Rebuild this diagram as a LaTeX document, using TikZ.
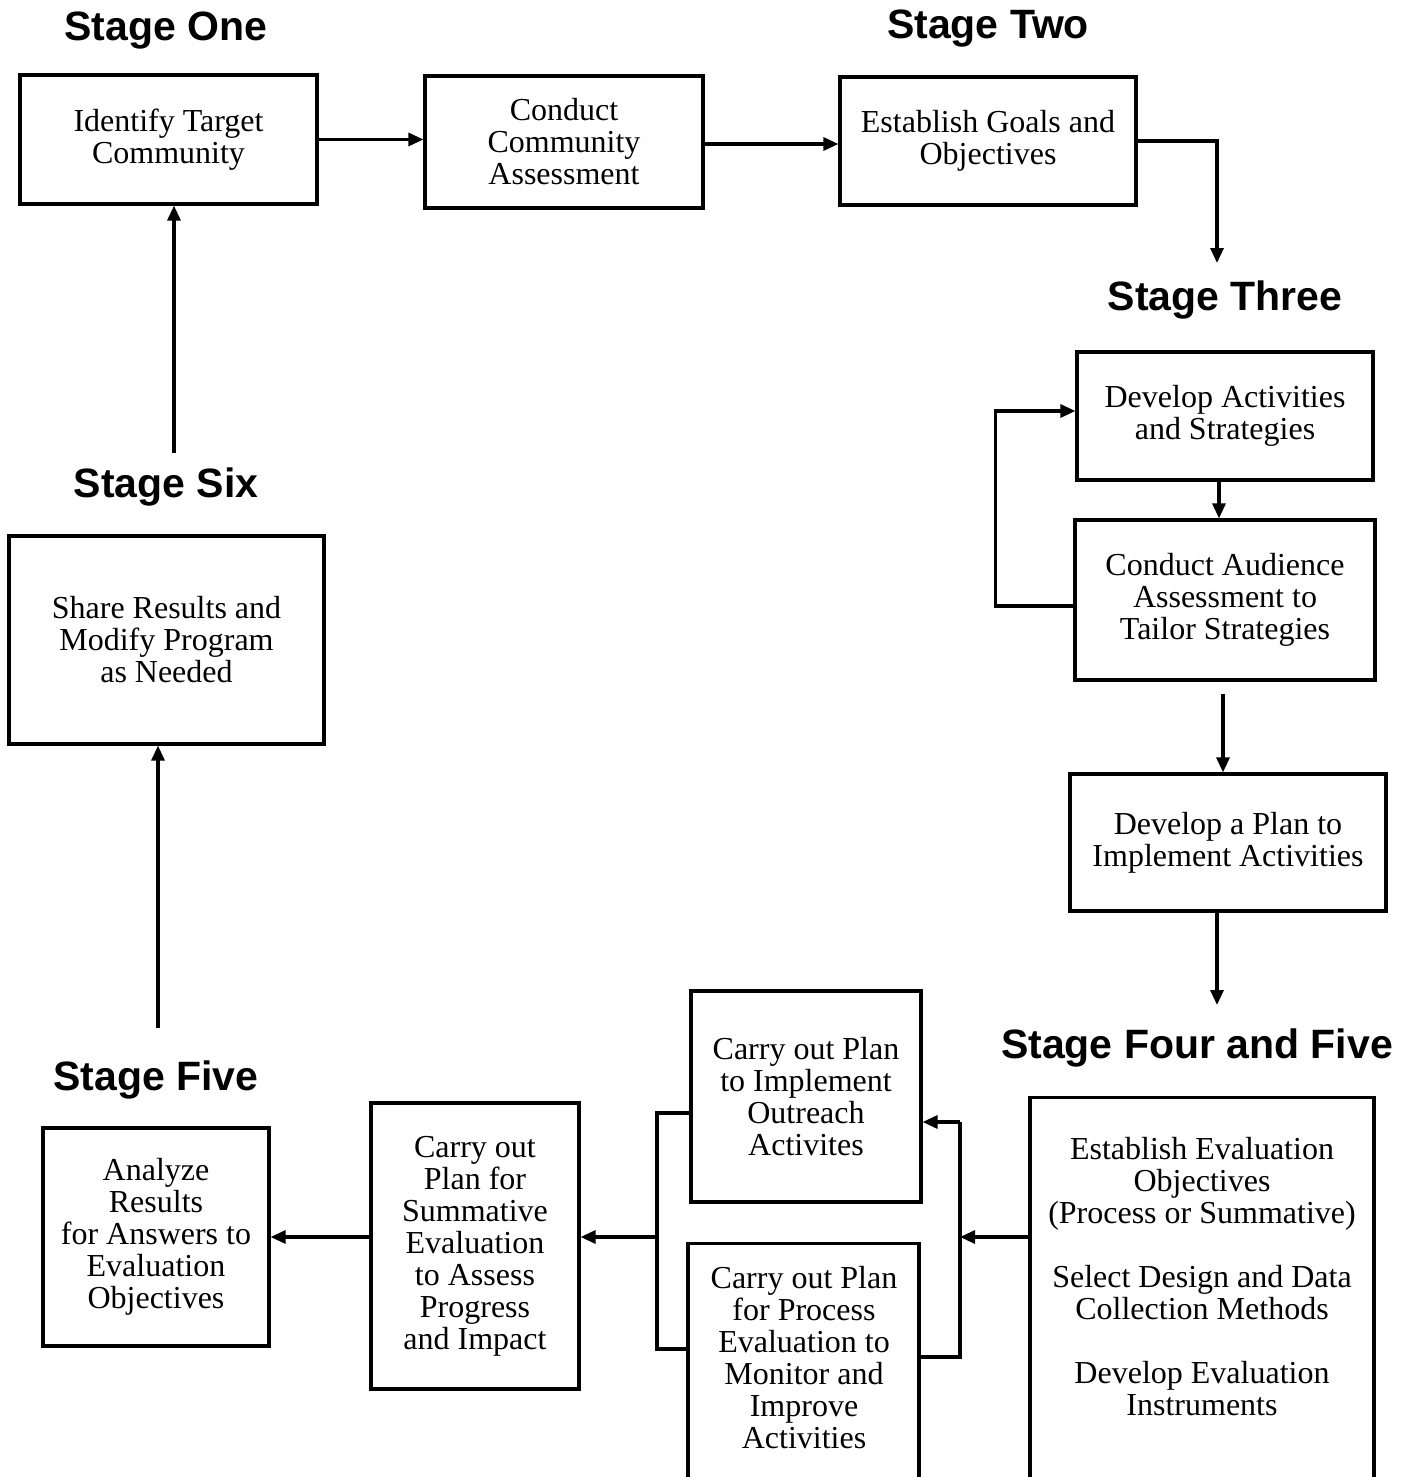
\documentclass[tikz,border=0pt]{standalone}
\usepackage{fontspec}
\setmainfont{Liberation Serif}
\newfontfamily\stagefont{Liberation Sans}
\usetikzlibrary{arrows.meta, positioning}
\tikzset{
>={Triangle[length=7.5pt,width=6.5pt]}, % filled arrow heads
txt/.style={inner sep=0pt, align=center, font=\fontsize{16}{16}\selectfont},
box/.style={txt, draw, line width=1.6pt}, % every step of the plan
stage/.style={inner sep=0pt, font=\stagefont\bfseries\fontsize{20.5}{24}\selectfont},
link/.style={line width=1.6pt},
}

\begin{document}
\begin{tikzpicture}[x=0.5pt, y=-0.5pt]%pixel-like units, y downwards
  \useasboundingbox (0,0) rectangle (1415,1477);

  % stage headings
  \node[stage] (one) at (166,31) {Stage One};
  \node[stage] (two) at (988,29) {Stage Two};
  \node[stage] (three) at (1225,300) {Stage Three};
  \node[stage] (six) at (166,487) {Stage Six};
  \node[stage] (fourfive) at (1197,1048) {Stage Four and Five};
  \node[stage] (five) at (156,1080) {Stage Five};

  % boxes
  \node[box, minimum width=148.5pt, minimum height=64.5pt] (ident) at (168.5,139.5) {Identify Target\\Community};
  \node[box, minimum width=139pt, minimum height=66pt] (assess) at (564,142) {Conduct\\Community\\Assessment};
  \node[box, minimum width=148pt, minimum height=64pt] (goals) at (988,141) {Establish Goals and\\Objectives};
  \node[box, minimum width=148pt, minimum height=64pt] (devact) at (1225,416) {Develop Activities\\and Strategies};
  \node[box, minimum width=150pt, minimum height=80pt] (audience) at (1225,600) {Conduct Audience\\Assessment to\\Tailor Strategies};
  \node[box, minimum width=158pt, minimum height=68.5pt] (plan) at (1228,842.5) {Develop a Plan to\\Implement Activities};
  \node[box, anchor=north, minimum width=172pt, minimum height=210pt] (evalobj) at (1202,1096) {};
  \node[txt] (evaltext) at (1202,1277) {Establish Evaluation\\Objectives\\(Process or Summative)\\[16pt]Select Design and Data\\Collection Methods\\[16pt]Develop Evaluation\\Instruments};
  \node[box, minimum width=115pt, minimum height=105.5pt] (outreach) at (806,1096.5) {Carry out Plan\\to Implement\\Outreach\\Activites};
  \node[box, anchor=north, minimum width=115.5pt, minimum height=140pt] (process) at (803.5,1242) {};
  \node[txt] (processtext) at (804,1358) {Carry out Plan\\for Process\\Evaluation to\\Monitor and\\Improve\\Activities};
  \node[box, minimum width=104pt, minimum height=143pt] (summ) at (475,1246) {Carry out\\Plan for\\Summative\\Evaluation\\to Assess\\Progress\\and Impact};
  \node[box, minimum width=113pt, minimum height=109pt] (analyze) at (156,1237) {Analyze\\Results\\for Answers to\\Evaluation\\Objectives};
  \node[box, minimum width=157.5pt, minimum height=104pt] (share) at (166.5,640) {Share Results and\\Modify Program\\as Needed};

  % free ends and joints
  \coordinate (threetop) at (1217,263);
  \coordinate (fourtop) at (1217,1005);
  \coordinate (rtop) at (960,1122);
  \coordinate (rjoin) at (960,1237);
  \coordinate (rbot) at (960,1357);
  \coordinate (ltop) at (657,1113);
  \coordinate (ljoin) at (657,1237);
  \coordinate (lbot) at (657,1349);
  \coordinate (fivetop) at (158,1028);
  \coordinate (sixtop) at (174,453);

  \draw[link, ->] (ident.east) -- (ident.east -| assess.west);
  \draw[link, ->] ([yshift=-1pt]assess.east) -- ([yshift=-1pt]assess.east -| goals.west);
  \draw[link, ->] (goals.east) -| (threetop);
  \draw[link, ->] ([xshift=-3pt]devact.south) -- ([xshift=-3pt]devact.south |- audience.north);
  \draw[link, ->] ([yshift=-3pt]audience.west) -- ++(-78,0) |- ([yshift=2.5pt]devact.west);
  \draw[link, ->, shorten <=6pt] ([xshift=-1pt]audience.south) -- ([xshift=-1pt]audience.south |- plan.north);
  \draw[link, ->] (plan.south -| fourtop) -- (fourtop);
  \draw[link, ->] (evalobj.west |- rjoin) -- (rjoin);
  \draw[link] (process.east |- rbot) -- (rbot) -- (rtop);
  \draw[link, ->] (rtop) -- (rtop -| outreach.east);
  \draw[link] (outreach.west |- ltop) -- (ltop) -- (lbot) -- (lbot -| process.west);
  \draw[link, ->] (ljoin) -- (ljoin -| summ.east);
  \draw[link, ->] (summ.west |- analyze.east) -- (analyze.east);
  \draw[link, ->] (fivetop) -- (fivetop |- share.south);
  \draw[link, ->] (sixtop) -- (sixtop |- ident.south);
\end{tikzpicture}
\end{document}
